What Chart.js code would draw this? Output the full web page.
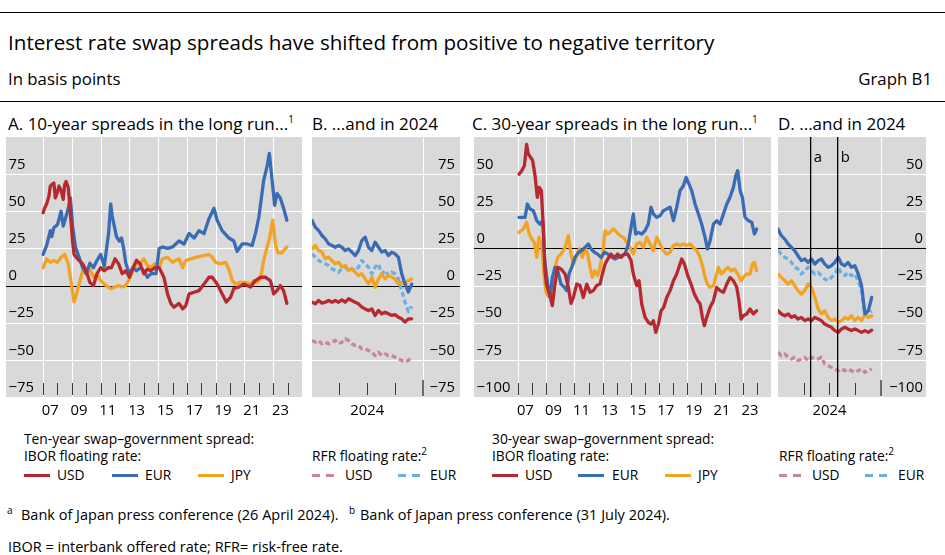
<!DOCTYPE html>
<html>

<head>
  <title>Interest rate swap spreads</title>
  <script src="https://cdn.jsdelivr.net/npm/chart.js@4.4.0/dist/chart.umd.min.js"></script>
  <style>
    body {
      margin: 0;
      width: 945px;
      height: 555px;
      position: relative;
      overflow: hidden;
      background: #fff;
      color: #000;
      font-family: 'Open Sans', sans-serif;
    }

    .t {
      position: absolute;
      white-space: nowrap;
    }

    .rule {
      position: absolute;
      left: 0;
      width: 945px;
      height: 1px;
      background: #000;
    }

    canvas {
      position: absolute;
      top: 137px;
    }

    .ptitle {
      font-size: 17px;
      line-height: 22px;
      top: 113px;
    }

    .lg {
      font-size: 13.8px;
      line-height: 18px;
    }

    .fn {
      font-size: 14.5px;
      line-height: 18px;
    }

    .sw {
      position: absolute;
      top: 474px;
      width: 26px;
      height: 3px;
    }

    .dash {
      position: absolute;
      top: 474px;
      width: 26px;
      height: 3px;
    }

    sup {
      font-size: 10px;
      line-height: 0;
    }
  </style>
</head>

<body>
  <div class="rule" style="top:12px"></div>
  <div class="t" style="left:8px; top:29px; font-size:20.6px; line-height:27px">Interest rate swap spreads have shifted from positive to negative territory</div>
  <div class="t" style="left:8px; top:68px; font-size:16.8px; line-height:22px">In basis points</div>
  <div class="t" style="right:13px; top:68px; font-size:16.8px; line-height:22px">Graph B1</div>
  <div class="rule" style="top:101px"></div>

  <div class="t ptitle" style="left:8px">A. 10-year spreads in the long run...<sup>1</sup></div>
  <div class="t ptitle" style="left:312px">B. ...and in 2024</div>
  <div class="t ptitle" style="left:472px">C. 30-year spreads in the long run...<sup>1</sup></div>
  <div class="t ptitle" style="left:778px">D. ...and in 2024</div>

  <canvas id="chartA" width="296" height="290" style="left:6px"></canvas>
  <canvas id="chartB" width="148" height="290" style="left:312px"></canvas>
  <canvas id="chartC" width="297" height="290" style="left:474px"></canvas>
  <canvas id="chartD" width="148" height="290" style="left:778px"></canvas>

  <!-- legend, left half -->
  <div class="t lg" style="left:24px; top:430px">Ten-year swap–government spread:</div>
  <div class="t lg" style="left:24px; top:447px">IBOR floating rate:</div>
  <div class="t lg" style="left:312px; top:447px">RFR floating rate:<sup>2</sup></div>
  <div class="sw" style="left:24px; background:#b5292f"></div>
  <div class="t lg" style="left:57px; top:466px">USD</div>
  <div class="sw" style="left:112px; background:#3a6cb5"></div>
  <div class="t lg" style="left:145px; top:466px">EUR</div>
  <div class="sw" style="left:198px; background:#f2a324"></div>
  <div class="t lg" style="left:231px; top:466px">JPY</div>
  <div class="dash" style="left:312px; background:repeating-linear-gradient(to right, #c9869a 0 8px, transparent 8px 14px)"></div>
  <div class="t lg" style="left:345px; top:466px">USD</div>
  <div class="dash" style="left:398px; background:repeating-linear-gradient(to right, #6aaee3 0 8px, transparent 8px 14px)"></div>
  <div class="t lg" style="left:430px; top:466px">EUR</div>

  <!-- legend, right half -->
  <div class="t lg" style="left:492px; top:430px">30-year swap–government spread:</div>
  <div class="t lg" style="left:492px; top:447px">IBOR floating rate:</div>
  <div class="t lg" style="left:779px; top:447px">RFR floating rate:<sup>2</sup></div>
  <div class="sw" style="left:492px; background:#b5292f"></div>
  <div class="t lg" style="left:525px; top:466px">USD</div>
  <div class="sw" style="left:578px; background:#3a6cb5"></div>
  <div class="t lg" style="left:612px; top:466px">EUR</div>
  <div class="sw" style="left:665px; background:#f2a324"></div>
  <div class="t lg" style="left:698px; top:466px">JPY</div>
  <div class="dash" style="left:779px; background:repeating-linear-gradient(to right, #c9869a 0 8px, transparent 8px 14px)"></div>
  <div class="t lg" style="left:812px; top:466px">USD</div>
  <div class="dash" style="left:865px; background:repeating-linear-gradient(to right, #6aaee3 0 8px, transparent 8px 14px)"></div>
  <div class="t lg" style="left:898px; top:466px">EUR</div>

  <!-- footnotes -->
  <div class="t fn" style="left:7px; top:506px"><sup>a</sup></div>
  <div class="t fn" style="left:21px; top:506px">Bank of Japan press conference (26 April 2024).</div>
  <div class="t fn" style="left:349px; top:506px"><sup>b</sup></div>
  <div class="t fn" style="left:360px; top:506px">Bank of Japan press conference (31 July 2024).</div>
  <div class="t fn" style="left:8px; top:538px">IBOR = interbank offered rate; RFR= risk-free rate.</div>

  <script>
    // ---- tick labels ----
    const longRunLabels = ['07', '09', '11', '13', '15', '17', '19', '21', '23'];
    const yearLabel = ['2024'];
    const yTicks10 = [75, 50, 25, 0, -25, -50, -75];
    const yTicks30 = [50, 25, 0, -25, -50, -75, -100];

    // ---- panel A: 10-year spread, IBOR floating rate, [year, bp] ----
    const usd10 = [[2007.0, 49], [2007.1, 52], [2007.25, 55], [2007.4, 60], [2007.5, 67], [2007.6, 68], [2007.75, 69], [2007.85, 59],
      [2008.0, 63], [2008.1, 67], [2008.25, 64], [2008.4, 58], [2008.5, 68], [2008.6, 70], [2008.75, 66], [2008.9, 48],
      [2009.05, 30], [2009.15, 21], [2009.3, 19], [2009.5, 17], [2009.75, 14.6], [2010.0, 10], [2010.25, 2], [2010.5, 0],
      [2010.75, 8], [2011.0, 12], [2011.25, 10], [2011.5, 12], [2011.75, 12], [2012.0, 18], [2012.25, 14.6], [2012.5, 8],
      [2012.75, 10], [2013.0, 5.6], [2013.25, 12], [2013.5, 17], [2013.75, 14.6], [2014.0, 8], [2014.25, 11], [2014.5, 10],
      [2014.75, 12], [2015.07, 12], [2015.4, 5.6], [2015.65, -5.6], [2015.88, -12], [2016.1, -14.6], [2016.45, -12],
      [2016.7, -15.7], [2016.92, -13.5], [2017.15, -5.6], [2017.5, -4.5], [2017.84, -3.4], [2018.19, 1], [2018.53, 5.6],
      [2018.76, 5.6], [2019.1, 1], [2019.45, -5.6], [2019.73, -11], [2020.03, -8], [2020.26, -2], [2020.6, -1], [2020.95, 1],
      [2021.19, 0], [2021.42, -1], [2021.76, 3.4], [2022.11, 5.6], [2022.45, 5.6], [2022.8, 3.4], [2023.03, -5.6],
      [2023.26, -3.4], [2023.49, 0], [2023.72, -3.4], [2023.95, -12]];
    const eur10 = [[2007.0, 21], [2007.25, 27], [2007.5, 37], [2007.6, 33], [2007.75, 39], [2008.0, 41], [2008.25, 50],
      [2008.4, 40], [2008.55, 45], [2008.75, 52], [2008.9, 59], [2009.05, 40], [2009.25, 26], [2009.5, 19], [2009.75, 12],
      [2010.0, 8], [2010.25, 15], [2010.5, 12], [2010.75, 17], [2011.0, 21], [2011.25, 13], [2011.55, 35], [2011.7, 55],
      [2011.8, 47], [2011.95, 40], [2012.1, 33], [2012.3, 30], [2012.45, 32], [2012.6, 25], [2012.75, 15], [2013.0, 8],
      [2013.25, 12], [2013.5, 10], [2013.75, 12], [2014.0, 10], [2014.25, 5.6], [2014.5, 8], [2014.85, 8], [2015.07, 25],
      [2015.3, 26], [2015.65, 25], [2016.0, 26], [2016.45, 30], [2016.8, 28], [2017.15, 35], [2017.5, 32], [2017.84, 37],
      [2018.19, 35], [2018.53, 45], [2018.88, 52], [2019.1, 44], [2019.45, 37], [2019.92, 32], [2020.26, 30], [2020.49, 23],
      [2020.84, 28], [2021.19, 28], [2021.53, 27], [2021.76, 35], [2022.0, 46], [2022.34, 71], [2022.57, 80], [2022.73, 89],
      [2022.92, 71], [2023.1, 54], [2023.26, 62], [2023.49, 59], [2023.72, 52], [2023.95, 44]];
    const jpy10 = [[2007.0, 12], [2007.25, 18], [2007.5, 15.7], [2007.75, 16.8], [2008.0, 15.7], [2008.25, 19], [2008.5, 21],
      [2008.75, 14.6], [2009.0, -1], [2009.15, -11], [2009.3, -6.7], [2009.5, 1], [2009.75, 10], [2010.0, 8], [2010.25, 11],
      [2010.5, 5.6], [2010.75, 8], [2011.0, 3.4], [2011.25, 1], [2011.5, -1], [2011.75, -2.2], [2012.0, -1], [2012.25, 0],
      [2012.5, -1], [2012.75, 0], [2013.0, 4.5], [2013.25, 10], [2013.5, 14.6], [2013.75, 14.6], [2014.0, 18], [2014.25, 13.5],
      [2014.5, 12], [2014.75, 14.6], [2015.07, 12], [2015.3, 18], [2015.65, 19], [2016.0, 15.7], [2016.45, 18], [2016.7, 12],
      [2016.92, 16.8], [2017.27, 18], [2017.61, 19], [2018.07, 20], [2018.53, 21], [2018.76, 19], [2018.99, 15.7],
      [2019.34, 14.6], [2019.68, 15.7], [2019.92, 11], [2020.15, 3.4], [2020.38, 1], [2020.72, 2.2], [2021.07, 2.2],
      [2021.42, 1], [2021.65, 3.4], [2021.88, 2.2], [2022.11, 4.5], [2022.34, 17], [2022.57, 26], [2022.75, 32],
      [2022.96, 44], [2023.15, 28], [2023.33, 22], [2023.6, 22], [2023.84, 25], [2023.95, 26]];

    // ---- panel C: 30-year spread, IBOR floating rate, [year, bp] ----
    const usd30 = [[2007.05, 50], [2007.24, 52.3], [2007.43, 55.7], [2007.59, 70], [2007.71, 63.5], [2007.88, 61.3],
      [2008.02, 59], [2008.19, 49], [2008.35, 34.4], [2008.5, 41], [2008.64, 38.9], [2008.8, 10], [2008.9, -15], [2009.0, -24],
      [2009.14, -28.4], [2009.28, -33], [2009.42, -38.5], [2009.61, -24], [2009.8, -12.7], [2010.04, -13.8], [2010.33, -17.2],
      [2010.56, -26.2], [2010.75, -37], [2010.92, -33], [2011.16, -24], [2011.39, -25], [2011.63, -33], [2011.87, -24],
      [2012.11, -29.5], [2012.34, -28.4], [2012.58, -25], [2012.82, -24], [2012.99, -17.2], [2013.18, -10.5], [2013.37, -7.1],
      [2013.6, -3.8], [2013.84, -6], [2014.08, -3.8], [2014.32, -6], [2014.55, -3.8], [2014.79, -3.8], [2015.03, -8.2],
      [2015.19, -17.2], [2015.43, -25], [2015.6, -21.7], [2015.79, -37.4], [2016.03, -46.4], [2016.26, -49.7], [2016.45, -50.9],
      [2016.62, -48.6], [2016.79, -56.5], [2016.98, -50.9], [2017.17, -41.9], [2017.36, -39.6], [2017.57, -33], [2017.81, -28.4],
      [2018.05, -21.7], [2018.28, -17.2], [2018.52, -10.5], [2018.64, -7.1], [2018.83, -10.5], [2019.07, -18.3], [2019.3, -24],
      [2019.54, -30.7], [2019.78, -35.2], [2019.95, -37.4], [2020.11, -46.4], [2020.25, -52], [2020.42, -46.4], [2020.66, -39.6],
      [2020.9, -35.2], [2021.13, -26.2], [2021.37, -28.4], [2021.61, -29.5], [2021.85, -24], [2022.08, -19.5], [2022.32, -21.7],
      [2022.56, -26.2], [2022.72, -35.2], [2022.87, -47.5], [2023.03, -45.3], [2023.27, -44.1], [2023.51, -40.8],
      [2023.75, -44.1], [2023.98, -41.9]];
    const eur30 = [[2007.05, 20.9], [2007.24, 20.9], [2007.48, 20.9], [2007.64, 29.9], [2007.83, 26.5], [2008.07, 25.4],
      [2008.31, 18.7], [2008.54, 16.4], [2008.73, 18.7], [2008.9, -10.5], [2009.09, -24], [2009.26, -33], [2009.42, -19.5],
      [2009.61, -12.7], [2009.8, -15], [2010.04, -24], [2010.28, -26.2], [2010.44, -28.4], [2010.61, -17.2], [2010.8, -12.7],
      [2011.04, -6], [2011.28, -2.6], [2011.51, -1.5], [2011.75, 0.7], [2011.99, 3], [2012.18, -0.4], [2012.42, -2.6],
      [2012.65, -3.8], [2012.89, -6], [2013.13, -2.6], [2013.37, -3.8], [2013.65, -6], [2013.89, -7.1], [2014.13, -6],
      [2014.36, -4.9], [2014.6, -3.8], [2014.84, 3], [2015.03, 14.2], [2015.19, 23.2], [2015.36, 9.7], [2015.55, 10.8],
      [2015.79, 9.7], [2016.03, 12], [2016.26, 16.4], [2016.45, 27.7], [2016.62, 23.2], [2016.86, 20.9], [2017.1, 22.1],
      [2017.33, 25.4], [2017.57, 26.5], [2017.81, 27.7], [2018.05, 18.7], [2018.28, 27.7], [2018.52, 38.9], [2018.76, 42.2],
      [2018.95, 47.8], [2019.16, 43.3], [2019.35, 38.9], [2019.59, 29.9], [2019.83, 23.2], [2020.06, 16.4], [2020.3, 7.5],
      [2020.47, -0.4], [2020.66, 5.2], [2020.9, 16.4], [2021.13, 18.7], [2021.37, 16.4], [2021.61, 23.2], [2021.85, 29.9],
      [2022.08, 34.4], [2022.32, 41.1], [2022.49, 49], [2022.63, 52.3], [2022.8, 38.9], [2022.96, 34.4], [2023.15, 20.9],
      [2023.39, 18.7], [2023.63, 17.6], [2023.82, 9.7], [2023.98, 13.1]];
    const jpy30 = [[2007.05, 10.8], [2007.36, 13.1], [2007.59, 17.6], [2007.78, 9.7], [2007.95, 6.3], [2008.14, 4.1],
      [2008.31, -6], [2008.47, 7.5], [2008.66, 3], [2008.8, -15], [2008.95, -28.4], [2009.09, -31.8], [2009.33, -28.4],
      [2009.57, -15], [2009.8, -6], [2010.04, -3.8], [2010.33, 0.7], [2010.56, 8.6], [2010.75, -3.8], [2010.92, -10.5],
      [2011.11, -6], [2011.35, -0.4], [2011.56, -6], [2011.75, 0.7], [2011.94, -3.8], [2012.11, -12.7], [2012.27, -19.5],
      [2012.46, -15], [2012.65, -18.3], [2012.82, -12.7], [2013.01, -3.8], [2013.18, 12], [2013.37, 9.7], [2013.53, 10.8],
      [2013.77, 13.1], [2014.01, 10.8], [2014.24, 8.6], [2014.48, 7.5], [2014.72, 4.1], [2014.96, 0.7], [2015.19, -3.8],
      [2015.43, 3], [2015.67, 4.1], [2015.91, 0.7], [2016.14, 7.5], [2016.38, 3], [2016.62, -1.5], [2016.86, 7.5], [2017.1, 3],
      [2017.33, -1.5], [2017.57, -3.8], [2017.81, -2.6], [2018.05, 1.9], [2018.28, 3], [2018.52, 1.9], [2018.76, 3],
      [2019.0, 1.9], [2019.23, 3], [2019.47, 0.7], [2019.71, -1.5], [2019.95, -6], [2020.14, -12.7], [2020.3, -19.5],
      [2020.47, -24], [2020.66, -26.2], [2020.9, -25], [2021.06, -19.5], [2021.25, -12.7], [2021.44, -17.2], [2021.68, -15],
      [2021.92, -12.7], [2022.15, -15], [2022.39, -13.8], [2022.63, -17.2], [2022.87, -21.7], [2023.03, -19.5], [2023.27, -17.2],
      [2023.51, -17.2], [2023.67, -10.5], [2023.82, -9.4], [2023.98, -15]];

    // ---- panel B: 10-year spreads in 2024, day of year ----
    const daysB = [0, 11, 22, 33, 44, 55, 66, 77, 88, 99, 110, 121, 132, 143, 154, 165, 176, 187, 198, 209, 220, 231, 242, 253,
      264, 275, 286, 297, 308, 319, 330];
    const usdIborB = [-11.2, -12.3, -10, -11.8, -11.2, -10, -11.2, -10, -11.2, -9.6, -11.2, -8.9, -10, -11.2, -12.3, -14.5,
      -15.7, -16.8, -15.7, -20.1, -16.8, -19, -17.9, -19, -20.1, -19.5, -21.3, -22.4, -24.6, -22.4, -22.4];
    const eurIborB = [43.8, 39.3, 37, 33.7, 31.4, 28.1, 27, 25.8, 27, 25.8, 23.6, 24.7, 22.5, 20.2, 23.6, 30.3, 32.6, 25.8,
      23.6, 29.2, 25.8, 22.5, 23.6, 20.2, 22.5, 21.4, 19.1, 7.9, 1.1, -4.4, 1];
    const jpyIborB = [24.7, 27, 23.6, 22.5, 18, 19.1, 16.9, 14.6, 15.7, 12.4, 13.5, 10.1, 11.3, 9, 6.8, 7.9, 4.5, 1.1, 5.7,
      -1.1, 4.5, 7.9, 4.5, 6.8, 5.7, 4.5, 1.1, 2.3, 1.1, 3.4, 4.5];
    const usdRfrB = [-37, -38.1, -37, -39.2, -38.1, -39.2, -38.1, -37, -39.2, -38.1, -35.8, -37, -39.2, -40.3, -40.3, -42.6,
      -42.6, -43.7, -44.8, -47.1, -44.8, -47.1, -46, -47.1, -47.1, -48.2, -49.3, -50.4, -51.5, -50.4, -48.2];
    const eurRfrB = [21.4, 19.1, 16.9, 15.7, 14.6, 13.5, 11.3, 10.1, 9, 11.3, 12.4, 10.1, 11.3, 10.1, 12.4, 16.9, 14.6, 12.4,
      7.9, 12.4, 14.6, 7.9, 10.1, 6.8, 9, 7.9, 4.5, -3.3, -11.2, -17.5, -14];

    // ---- panel D: 30-year spreads in 2024, day of year ----
    const daysD = [0, 12, 24, 36, 48, 59, 71, 83, 95, 107, 119, 131, 143, 154, 166, 178, 190, 202, 214, 226, 238, 249, 261,
      273, 285, 297, 309, 321, 333];
    const usdIborD = [-41.9, -44.1, -45.3, -44.1, -46.4, -45.3, -47.5, -46.4, -48.6, -47.5, -48.6, -46.4, -47.5, -48.6, -50.9,
      -52, -53.1, -55.3, -56.5, -54.2, -53.1, -54.2, -55.3, -54.2, -55.3, -56.5, -55.3, -56.5, -55];
    const eurIborD = [13.1, 8.6, 6.3, 3, 0.7, -1.5, -4.9, -8.2, -7.1, -9.4, -7.1, -10.5, -8.2, -7.1, -10.5, -12.7, -11.6, -9.4,
      -6, -10.5, -11.6, -9.4, -12.7, -11.6, -17.2, -25, -44, -42, -33];
    const jpyIborD = [-17.2, -19.5, -21.7, -24, -21.7, -25, -28.4, -30.7, -28.4, -24, -26.2, -33, -40.8, -44.1, -41.9, -46.4,
      -48.6, -47.5, -49.7, -48.6, -46.4, -47.5, -45.3, -48.6, -46.4, -48.6, -44.1, -46.4, -45.3];
    const usdRfrD = [-69.9, -72.2, -71, -73.3, -74.4, -73.3, -75.5, -74.4, -73.3, -75.5, -73.3, -74.4, -74.4, -73.3, -77.8,
      -78.9, -80, -81.1, -82.3, -81.1, -82.3, -81.1, -82.3, -83.4, -82.3, -81.1, -83.4, -82.3, -81.1];
    const eurRfrD = [-1.5, -3.8, -6, -7.1, -9.4, -12.7, -13.8, -17.2, -15, -12.7, -15, -17.2, -16.1, -18.3, -20.6, -21.7, -19.5,
      -17.2, -12.7, -17.2, -18.3, -16.1, -18.3, -17.2, -21.7, -28.4, -45, -44, -42];

    // Bank of Japan press conferences: 26 April and 31 July 2024 (day of year)
    const bojEvents = [{ day: 116, text: 'a' }, { day: 212, text: 'b' }];

    const RED = '#b5292f';
    const BLUE = '#3a6cb5';
    const ORANGE = '#f2a324';
    const PINK = '#c9869a';
    const LIGHTBLUE = '#6aaee3';
    const BG = '#d9d9d9';
    const FONT = '14.8px "Open Sans"';

    const pairs = (xs, ys) => xs.map((x, i) => [x, ys[i]]);
    const fmt = v => (v < 0 ? '\u2212' + (-v) : String(v));

    function line(ctx, x1, y1, x2, y2) {
      ctx.beginPath();
      ctx.moveTo(x1, y1);
      ctx.lineTo(x2, y2);
      ctx.stroke();
    }

    // background, grid, tick marks and labels, all placed with the chart's own scales
    function decor(cfg) {
      return {
        id: 'decor',
        beforeDatasetsDraw(chart) {
          const { ctx, chartArea: a, scales: { x, y } } = chart;
          ctx.save();
          ctx.fillStyle = BG;
          ctx.fillRect(a.left, a.top, a.right - a.left, a.bottom - a.top);

          ctx.lineWidth = 1;
          ctx.strokeStyle = '#fff';
          cfg.gridX.forEach(v => {
            const px = Math.round(x.getPixelForValue(v)) + 0.5;
            line(ctx, px, a.top, px, a.bottom);
          });
          cfg.yTicks.forEach(v => {
            if (v === 0) return;
            const py = Math.round(y.getPixelForValue(v)) + 0.5;
            line(ctx, a.left, py, a.right, py);
          });

          ctx.strokeStyle = '#3a3a3a';
          cfg.tickX.forEach(v => {
            const px = Math.round(x.getPixelForValue(v)) + 0.5;
            line(ctx, px, a.bottom - 14, px, a.bottom - 2);
          });
          if (cfg.majorTickX) {
            ctx.strokeStyle = '#6b6b6b';
            ctx.lineWidth = 2;
            cfg.majorTickX.forEach(v => {
              const px = Math.round(x.getPixelForValue(v));
              line(ctx, px, a.bottom - 17, px, a.bottom - 1);
            });
          }

          ctx.strokeStyle = '#000';
          ctx.lineWidth = 1.2;
          const zy = Math.round(y.getPixelForValue(0)) + 0.5;
          line(ctx, a.left, zy, a.right, zy);

          ctx.font = FONT;
          ctx.fillStyle = '#000';
          ctx.textBaseline = 'middle';
          ctx.textAlign = cfg.yRight ? 'right' : 'left';
          const lx = cfg.yRight ? a.right - cfg.yPad : a.left + cfg.yPad;
          cfg.yTicks.forEach(v => ctx.fillText(fmt(v), lx, y.getPixelForValue(v) - 9.5));

          ctx.textAlign = 'center';
          cfg.xLabels.forEach(l => ctx.fillText(l.text, x.getPixelForValue(l.value), a.bottom + 14));

          (cfg.events || []).forEach(e => {
            ctx.textAlign = 'left';
            ctx.fillText(e.text, x.getPixelForValue(e.day) + 3, a.top + 21);
          });
          ctx.restore();
        }
      };
    }

    function makeChart(id, datasets, cfg) {
      return new Chart(document.getElementById(id), {
        type: 'line',
        data: { datasets: datasets },
        options: {
          responsive: false,
          animation: false,
          events: [],
          layout: { padding: { bottom: 30 } },
          elements: {
            point: { radius: 0 },
            line: { borderWidth: 3.3, tension: 0, borderJoinStyle: 'round', borderCapStyle: 'round' }
          },
          plugins: { legend: { display: false }, tooltip: { enabled: false } },
          scales: {
            x: { type: 'linear', display: false, min: cfg.xMin, max: cfg.xMax },
            y: { type: 'linear', display: false, min: cfg.yMin, max: cfg.yMax }
          }
        },
        plugins: [decor(cfg)]
      });
    }

    const solid = (data, color) => ({ data: data, borderColor: color, fill: false });
    const dashed = (data, color) => ({ data: data, borderColor: color, fill: false, borderDash: [5, 3], borderCapStyle: 'butt' });
    const eventLine = (day, lo, hi) => ({ data: [[day, lo], [day, hi]], borderColor: '#000', borderWidth: 1.3, fill: false });

    const yearsTicks = [];
    for (let yr = 2007; yr <= 2024; yr++) yearsTicks.push(yr);
    const longRunGrid = yearsTicks.filter(yr => yr % 2 === 1);
    const longRunXLabels = longRunLabels.map(l => ({ value: 2000 + Number(l) + 0.5, text: l }));
    const quarterTicks = [91, 182, 274];
    const yearEnd = [366];
    const midYear = [{ value: 183, text: yearLabel[0] }];

    makeChart('chartA', [solid(usd10, RED), solid(eur10, BLUE), solid(jpy10, ORANGE)], {
      xMin: 2004.42, xMax: 2025, yMin: -75, yMax: 100, yTicks: yTicks10, yPad: 2.5,
      gridX: longRunGrid, tickX: yearsTicks, xLabels: longRunXLabels
    });

    makeChart('chartB', [
      solid(pairs(daysB, usdIborB), RED), solid(pairs(daysB, eurIborB), BLUE), solid(pairs(daysB, jpyIborB), ORANGE),
      dashed(pairs(daysB, usdRfrB), PINK), dashed(pairs(daysB, eurRfrB), LIGHTBLUE)
    ], {
      xMin: 0, xMax: 490, yMin: -75, yMax: 100, yTicks: yTicks10, yRight: true, yPad: 5,
      gridX: yearEnd, tickX: quarterTicks, majorTickX: yearEnd, xLabels: midYear
    });

    makeChart('chartC', [solid(usd30, RED), solid(eur30, BLUE), solid(jpy30, ORANGE)], {
      xMin: 2003.84, xMax: 2025, yMin: -100, yMax: 75, yTicks: yTicks30, yPad: 2.5,
      gridX: longRunGrid, tickX: yearsTicks, xLabels: longRunXLabels
    });

    makeChart('chartD', [
      eventLine(bojEvents[0].day, -100, 75), eventLine(bojEvents[1].day, -100, 75),
      solid(pairs(daysD, usdIborD), RED), solid(pairs(daysD, eurIborD), BLUE), solid(pairs(daysD, jpyIborD), ORANGE),
      dashed(pairs(daysD, usdRfrD), PINK), dashed(pairs(daysD, eurRfrD), LIGHTBLUE)
    ], {
      xMin: 0, xMax: 526, yMin: -100, yMax: 75, yTicks: yTicks30, yRight: true, yPad: 3,
      gridX: yearEnd, tickX: quarterTicks, majorTickX: yearEnd, xLabels: midYear, events: bojEvents
    });
  </script>
</body>

</html>
